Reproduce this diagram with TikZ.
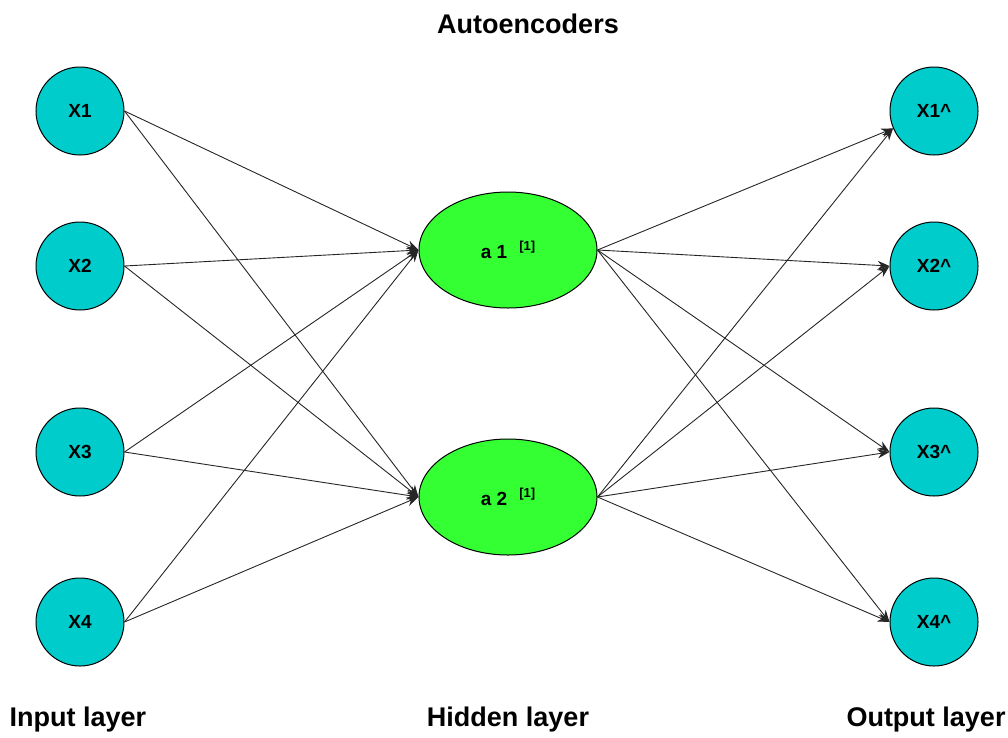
\documentclass[tikz,border=0pt]{standalone}
\usepackage{fontspec}
\setmainfont{Liberation Sans}
\usetikzlibrary{arrows.meta,shapes.geometric}
\definecolor{unitcyan}{RGB}{0,204,204}
\definecolor{unitgreen}{RGB}{51,255,51}
\tikzset{
  unit/.style={circle,draw=black,line width=1pt,fill=unitcyan,minimum size=88pt,inner sep=0pt,
    font=\fontsize{19}{21}\selectfont\bfseries},
  hid/.style={ellipse,draw=black,line width=1pt,fill=unitgreen,minimum width=178pt,minimum height=116pt,inner sep=0pt,
    font=\fontsize{19}{21}\selectfont\bfseries},
  caption/.style={font=\fontsize{27}{30}\selectfont\bfseries},
  arr/.style={draw=black!85,line width=0.9pt,-{Stealth[length=12pt,width=9pt]}}
}
\newcommand{\hidlabel}[1]{a #1\hspace{12pt}\raisebox{8pt}{\fontsize{13}{14}\selectfont [1]}}
\begin{document}
\begin{tikzpicture}[x=1pt,y=-1pt]
\useasboundingbox (0,0) rectangle (1008,737);
% input layer
\node[unit] (x1) at (80,111) {X1};
\node[unit] (x2) at (80,266) {X2};
\node[unit] (x3) at (80,452) {X3};
\node[unit] (x4) at (80,622) {X4};
% hidden layer
\node[hid] (a1) at (508,250) {\hidlabel{1}};
\node[hid] (a2) at (508,497) {\hidlabel{2}};
% output layer
\node[unit] (y1) at (934,111) {X1\^{}};
\node[unit] (y2) at (934,266) {X2\^{}};
\node[unit] (y3) at (934,452) {X3\^{}};
\node[unit] (y4) at (934,622) {X4\^{}};
% captions
\node[caption] (title) at (528,24) {Autoencoders};
\node[caption] (lin) at (78,720) {Input layer};
\node[caption] (lhid) at (508,720) {Hidden layer};
\node[caption] (lout) at (926,720) {Output layer};
% encoder connections
\foreach \i in {1,2,3,4}{
  \draw[arr] (x\i.east) -- (a1.west);
  \draw[arr] (x\i.east) -- (a2.west);
}
% decoder connections
\foreach \j in {1,2}{
  \draw[arr] (a\j.east) -- (y1.203);
  \draw[arr] (a\j.east) -- (y2.west);
  \draw[arr] (a\j.east) -- (y3.west);
  \draw[arr] (a\j.east) -- (y4.west);
}
\end{tikzpicture}
\end{document}
